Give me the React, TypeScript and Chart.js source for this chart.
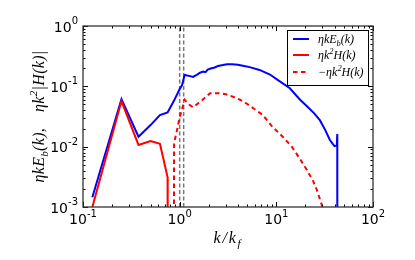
import React, { useEffect, useRef } from 'react';
import { Chart, registerables } from 'chart.js';

Chart.register(...registerables);

// ---- data ----
const kBlue = [0.125, 0.25, 0.375, 0.5, 0.625, 0.75, 0.875, 1.0, 1.06, 1.125, 1.25, 1.375, 1.5, 1.625, 1.75, 1.85, 1.95, 2.1, 2.3, 2.5, 2.8, 3.1, 3.5, 4.0, 4.5, 5.3, 6.7, 8.6, 10.4, 13.8, 17.6, 21, 24.5, 28.2, 32, 35.8, 38.5, 40, 41.5, 42.3, 42.7, 42.75];
const eBlue = [1.45e-3, 0.0616, 0.0146, 0.0228, 0.0334, 0.037, 0.058, 0.09, 0.105, 0.154, 0.149, 0.143, 0.155, 0.168, 0.176, 0.172, 0.19, 0.197, 0.205, 0.218, 0.225, 0.233, 0.232, 0.227, 0.219, 0.208, 0.187, 0.157, 0.127, 0.093, 0.06, 0.046, 0.036, 0.0275, 0.019, 0.0129, 0.011, 0.0102, 0.0104, 0.0115, 0.0162, 1e-6];

const kRed = [0.125, 0.25, 0.375, 0.5, 0.625, 0.75, 0.752];
const hRed = [1.0e-3, 0.057, 0.0107, 0.0124, 0.0112, 3.1e-3, 1e-6];

const kDash = [0.87, 0.875, 0.94, 1.0, 1.06, 1.125, 1.25, 1.375, 1.5, 1.7, 1.9, 2.06, 2.5, 3.0, 3.5, 4.2, 5.0, 5.73, 7.26, 9.2, 11.7, 14.5, 17, 20.7, 24, 26.3, 29.6, 31];
const hDash = [1e-6, 0.0115, 0.019, 0.031, 0.042, 0.06, 0.05, 0.045, 0.05, 0.059, 0.068, 0.077, 0.077, 0.074, 0.068, 0.06, 0.051, 0.0437, 0.0334, 0.021, 0.0145, 0.0099, 0.0068, 0.0041, 0.0027, 0.0019, 0.00107, 8e-4];

const forcingK = [1.0, 1.1];

const xMin = 0.1, xMax = 100;
const yMin = 1e-3, yMax = 1;
const xDecades = [-1, 0, 1, 2];
const yDecades = [-3, -2, -1, 0];

type Part = { t?: string; pos?: 'sub' | 'sup'; gap?: number };

const legendItems: { parts: Part[]; color: string; dash: number[] }[] = [
  { parts: [{ t: 'ηkE' }, { t: 'b', pos: 'sub' }, { t: '(k)' }], color: '#0000ff', dash: [] },
  { parts: [{ t: 'ηk' }, { t: '2', pos: 'sup' }, { t: 'H(k)' }], color: '#ff0000', dash: [] },
  { parts: [{ t: '−ηk' }, { t: '2', pos: 'sup' }, { t: 'H(k)' }], color: '#ff0000', dash: [4.5, 3.5] },
];
const yLabelParts: Part[] = [
  { t: 'ηkE' }, { t: 'b', pos: 'sub' }, { t: '(k),' }, { gap: 16 },
  { t: 'ηk' }, { t: '2', pos: 'sup' }, { t: '|H(k)|' },
];
const xLabelParts: Part[] = [{ t: 'k/k' }, { t: 'f', pos: 'sub' }];

const MATH = '"Liberation Serif", serif';
const SANS = '"DejaVu Sans", sans-serif';

function drawRich(ctx: CanvasRenderingContext2D, parts: Part[], x: number, y: number, fs: number, align: 'left' | 'center' | 'right', ls = 0) {
  const items: { ch: string; x: number; size: number; dy: number }[] = [];
  let w = 0;
  for (const p of parts) {
    if (p.gap) { w += p.gap; continue; }
    const size = p.pos ? fs * 0.7 : fs;
    const dy = p.pos === 'sub' ? fs * 0.22 : p.pos === 'sup' ? -fs * 0.42 : 0;
    ctx.font = `italic ${size}px ${MATH}`;
    for (const ch of Array.from(p.t || '')) {
      items.push({ ch, x: w, size, dy });
      w += ctx.measureText(ch).width + ls;
    }
  }
  const x0 = align === 'center' ? x - w / 2 : align === 'right' ? x - w : x;
  ctx.textAlign = 'left';
  ctx.textBaseline = 'alphabetic';
  for (const it of items) {
    ctx.font = `italic ${it.size}px ${MATH}`;
    ctx.fillText(it.ch, x0 + it.x, y + it.dy);
  }
}

function expLabel(d: number) {
  return d < 0 ? '-' + Math.abs(d) : String(d);
}

const decorPlugin = {
  id: 'decor',
  afterDraw(chart: any) {
    const ctx: CanvasRenderingContext2D = chart.ctx;
    const xs = chart.scales.x, ys = chart.scales.y;
    const { left, right, top, bottom } = chart.chartArea;
    ctx.save();
    ctx.setLineDash([]);
    // ticks
    ctx.strokeStyle = '#000';
    ctx.lineWidth = 1;
    ctx.beginPath();
    for (let d = -1; d <= 2; d++) {
      for (let m = 1; m <= 9; m++) {
        const v = m * Math.pow(10, d);
        if (v < xMin - 1e-9 || v > xMax + 1e-9) continue;
        const px = Math.round(xs.getPixelForValue(v)) + 0.5;
        const len = m === 1 ? 5 : 2.5;
        ctx.moveTo(px, bottom); ctx.lineTo(px, bottom - len);
        ctx.moveTo(px, top); ctx.lineTo(px, top + len);
      }
    }
    for (let d = -3; d <= 0; d++) {
      for (let m = 1; m <= 9; m++) {
        const v = m * Math.pow(10, d);
        if (v < yMin - 1e-12 || v > yMax + 1e-9) continue;
        const py = Math.round(ys.getPixelForValue(v)) + 0.5;
        const len = m === 1 ? 5 : 2.5;
        ctx.moveTo(left, py); ctx.lineTo(left + len, py);
        ctx.moveTo(right, py); ctx.lineTo(right - len, py);
      }
    }
    ctx.stroke();
    // frame
    ctx.strokeStyle = '#333';
    ctx.lineWidth = 1.3;
    ctx.strokeRect(left, top, right - left, bottom - top);

    // tick labels
    ctx.fillStyle = '#000';
    ctx.textBaseline = 'alphabetic';
    ctx.textAlign = 'left';
    for (const d of xDecades) {
      const px = xs.getPixelForValue(Math.pow(10, d));
      ctx.font = `14px ${SANS}`;
      const w1 = ctx.measureText('10').width;
      ctx.font = `10px ${SANS}`;
      const e = expLabel(d);
      const w2 = ctx.measureText(e).width;
      const x0 = px - (w1 + w2) / 2;
      ctx.font = `14px ${SANS}`;
      ctx.fillText('10', x0, bottom + 17);
      ctx.font = `10px ${SANS}`;
      ctx.fillText(e, x0 + w1, bottom + 10);
    }
    for (const d of yDecades) {
      const py = ys.getPixelForValue(Math.pow(10, d));
      ctx.font = `14px ${SANS}`;
      const w1 = ctx.measureText('10').width;
      ctx.font = `10px ${SANS}`;
      const e = expLabel(d);
      const w2 = ctx.measureText(e).width;
      const x0 = left - 5 - (w1 + w2);
      ctx.font = `14px ${SANS}`;
      ctx.fillText('10', x0, py + 5.5);
      ctx.font = `10px ${SANS}`;
      ctx.fillText(e, x0 + w1, py - 2);
    }

    // axis labels
    drawRich(ctx, xLabelParts, (left + right) / 2, bottom + 36, 16, 'center', 1.8);
    ctx.save();
    ctx.translate(44, (top + bottom) / 2);
    ctx.rotate(-Math.PI / 2);
    drawRich(ctx, yLabelParts, 0, 0, 16, 'center', 0.3);
    ctx.restore();

    // legend
    const lx = 287, ly = 30, lw = 81, lh = 55;
    ctx.fillStyle = '#fff';
    ctx.fillRect(lx, ly, lw, lh);
    ctx.strokeStyle = '#000';
    ctx.lineWidth = 1;
    ctx.strokeRect(lx + 0.5, ly + 0.5, lw, lh);
    const rows = [39, 55, 72];
    legendItems.forEach((it, i) => {
      ctx.strokeStyle = it.color;
      ctx.lineWidth = 2;
      ctx.setLineDash(it.dash);
      ctx.beginPath();
      ctx.moveTo(293, rows[i]);
      ctx.lineTo(309, rows[i]);
      ctx.stroke();
      ctx.setLineDash([]);
      ctx.fillStyle = '#000';
      drawRich(ctx, it.parts, 318, rows[i] + 4, 12, 'left', 0);
    });
    ctx.restore();
  },
};

export default function App() {
  const ref = useRef<HTMLCanvasElement | null>(null);
  useEffect(() => {
    document.body.style.margin = '0';
    const canvas = ref.current!;
    const toXY = (xs: number[], ys: number[]) => xs.map((x, i) => ({ x, y: ys[i] }));
    const chart = new Chart(canvas, {
      type: 'line',
      data: {
        datasets: [
          ...forcingK.map((k) => ({
            data: [{ x: k, y: yMin }, { x: k, y: yMax }],
            borderColor: '#777777',
            borderWidth: 1.5,
            borderDash: [4, 2.5],
            pointRadius: 0,
            order: 10,
          })),
          {
            data: toXY(kBlue, eBlue),
            borderColor: '#0000ff',
            borderWidth: 2,
            pointRadius: 0,
            order: 3,
          },
          {
            data: toXY(kRed, hRed),
            borderColor: '#ff0000',
            borderWidth: 2,
            pointRadius: 0,
            order: 2,
          },
          {
            data: toXY(kDash, hDash),
            borderColor: '#ff0000',
            borderWidth: 2,
            borderDash: [4.5, 3.5],
            pointRadius: 0,
            order: 1,
          },
        ],
      },
      options: {
        responsive: false,
        animation: false,
        events: [],
        layout: { padding: { left: 83, right: 42, top: 26, bottom: 53 } },
        plugins: { legend: { display: false }, tooltip: { enabled: false } },
        elements: { line: { tension: 0, fill: false } },
        scales: {
          x: { type: 'logarithmic', min: xMin, max: xMax, display: false },
          y: { type: 'logarithmic', min: yMin, max: yMax, display: false },
        },
      },
      plugins: [decorPlugin],
    } as any);
    return () => chart.destroy();
  }, []);
  return (
    <div style={{ position: 'fixed', left: 0, top: 0, width: 415, height: 260, background: '#fff' }}>
      <canvas ref={ref} width={415} height={260} style={{ width: 415, height: 260 }} />
    </div>
  );
}
